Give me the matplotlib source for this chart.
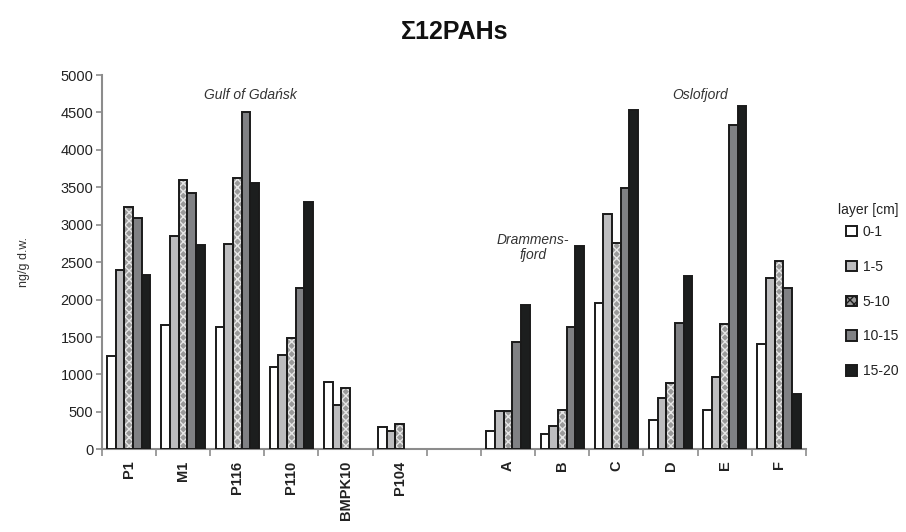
import matplotlib
matplotlib.use('Agg')
import matplotlib.pyplot as plt
import matplotlib.patches as mpatches
import numpy as np

plt.rcParams['font.family'] = ['Liberation Sans', 'DejaVu Sans']
plt.rcParams['hatch.linewidth'] = 1.0

# sampling sites (empty slot separates the Baltic and Norwegian sites)
sites = ["P1", "M1", "P116", "P110", "BMPK10", "P104", "",
         "A", "B", "C", "D", "E", "F"]
layers = ["0-1", "1-5", "5-10", "10-15", "15-20"]

nan = np.nan
# sum of 12 PAHs, ng/g d.w., one list per layer
l_0_1   = [1247, 1661, 1638, 1104, 899, 294, nan, 249, 205, 1950, 392, 525, 1407]
l_1_5   = [2395, 2854, 2742, 1255, 588, 245, nan, 508, 312, 3143, 686, 971, 2288]
l_5_10  = [3241, 3597, 3620, 1491, 815, 338, nan, 516, 525, 2760, 890, 1674, 2515]
l_10_15 = [3085, 3419, 4501, 2155, nan, nan, nan, 1429, 1629, 3495, 1692, 4332, 2155]
l_15_20 = [2328, 2725, 3562, 3303, nan, nan, nan, 1928, 2720, 4532, 2315, 4590, 745]
values = [l_0_1, l_1_5, l_5_10, l_10_15, l_15_20]

faces = ['white', '#bdbdbf', '#9a9a9a', '#808184', '#1c1e1e']
edge = '#1a1a1a'

fig = plt.figure(figsize=(9.06, 5.32), dpi=100)
ax = fig.add_axes([0.1123, 0.1555, 0.7773, 0.7034])

x = np.arange(len(sites))
w = 0.16
for i, vals in enumerate(values):
    v = np.array(vals, dtype=float)
    ok = ~np.isnan(v)
    xs = x[ok] + (i - 2) * w
    if i == 2:
        # checkered fill: grey with a white lattice, then black outline
        ax.bar(xs, v[ok], width=w, color=faces[i], edgecolor='#e6e6e6',
               linewidth=0, hatch='xxxx', zorder=2)
        ax.bar(xs, v[ok], width=w, color='none', edgecolor=edge,
               linewidth=1.4, zorder=3)
    else:
        ax.bar(xs, v[ok], width=w, color=faces[i], edgecolor=edge,
               linewidth=1.4, zorder=3)

ax.set_xlim(-0.5, len(sites) - 0.5)
ax.set_ylim(0, 5000)
ax.set_yticks(np.arange(0, 5001, 500))

ax.set_xticks(x)
ax.set_xticklabels(sites, rotation=90, fontsize=10.5, fontweight='bold',
                   color='#222222')
ax.set_xticks(np.arange(-0.5, len(sites), 1), minor=True)
ax.tick_params(axis='x', which='major', length=0, pad=8)
ax.tick_params(axis='x', which='minor', length=5, color='#8c8c8c', width=1.2)
ax.tick_params(axis='y', length=4, color='#8c8c8c', width=1.2,
               labelsize=10.5, labelcolor='#222222', pad=2)

for s in ['top', 'right']:
    ax.spines[s].set_visible(False)
for s in ['left', 'bottom']:
    ax.spines[s].set_color('#8c8c8c')
    ax.spines[s].set_linewidth(1.5)

ax.set_ylabel("ng/g d.w.", fontsize=9, color='#333333', labelpad=22)

fig.text(0.502, 0.94, "\u03a312PAHs", ha='center', va='center',
         fontsize=18, fontweight='bold', color='#111111')

ax.text(2.24, 4730, "Gulf of Gda\u0144sk", ha='center', va='center',
        fontsize=10, style='italic', color='#333333')
ax.text(10.54, 4730, "Oslofjord", ha='center', va='center',
        fontsize=10, style='italic', color='#333333')
ax.text(7.46, 2690, "Drammens-\nfjord", ha='center', va='center',
        fontsize=10, style='italic', color='#333333', linespacing=1.1)

handles = []
for i, lab in enumerate(layers):
    if i == 2:
        p = mpatches.Patch(facecolor=faces[i], edgecolor=edge, hatch='xxxx',
                           linewidth=1.4, label=lab)
    else:
        p = mpatches.Patch(facecolor=faces[i], edgecolor=edge,
                           linewidth=1.4, label=lab)
    handles.append(p)
fig.text(868 / 906, 1 - 210 / 532, "layer [cm]", ha='center', va='center',
         fontsize=10, color='#222222')
leg = fig.legend(handles=handles, loc='upper left',
                 bbox_to_anchor=(0.934, 1 - 225 / 532), frameon=False,
                 fontsize=10, handlelength=0.8, handleheight=0.8,
                 handletextpad=0.4, labelspacing=1.5, borderaxespad=0,
                 borderpad=0)
for t in leg.get_texts():
    t.set_color('#222222')

fig.savefig("out.png", dpi=100)
